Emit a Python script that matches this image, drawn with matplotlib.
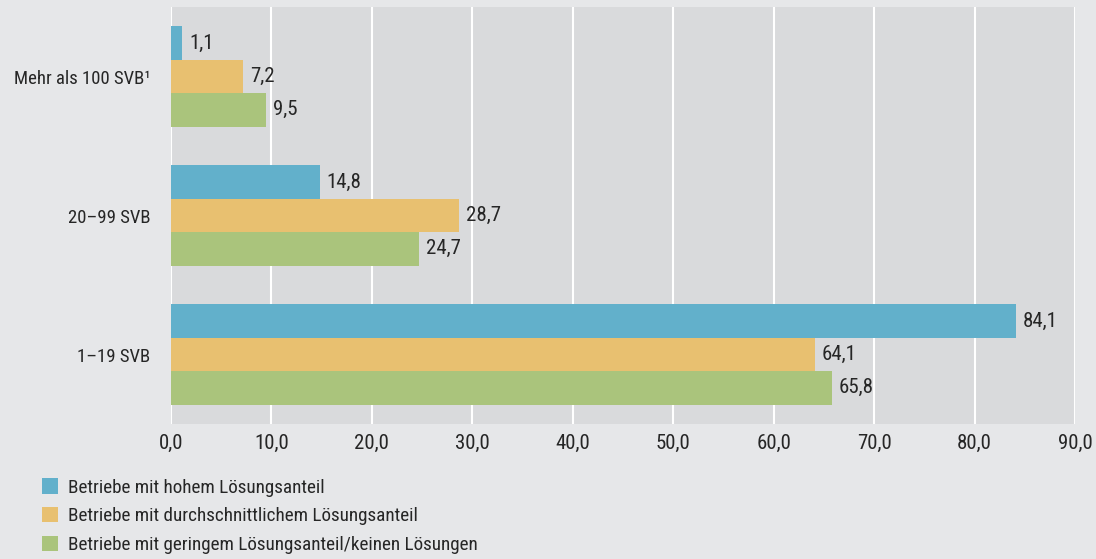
import matplotlib
matplotlib.use("Agg")
import matplotlib.pyplot as plt
from matplotlib import font_manager
import numpy as np

# ---------------------------------------------------------------------------
# Data
# ---------------------------------------------------------------------------
categories = ["Mehr als 100 SVB\u00b9", "20\u201399 SVB", "1\u201319 SVB"]
series_labels = [
    "Betriebe mit hohem Lösungsanteil",
    "Betriebe mit durchschnittlichem Lösungsanteil",
    "Betriebe mit geringem Lösungsanteil/keinen Lösungen",
]
hoch = [1.1, 14.8, 84.1]
mittel = [7.2, 28.7, 64.1]
gering = [9.5, 24.7, 65.8]
series_values = [hoch, mittel, gering]
colors = ["#62b0cb", "#e8c070", "#aac47c"]
x_ticks = [0, 10, 20, 30, 40, 50, 60, 70, 80, 90]

# ---------------------------------------------------------------------------
# Style
# ---------------------------------------------------------------------------
installed = {f.name for f in font_manager.fontManager.ttflist}
fam = [f for f in ["Liberation Sans Narrow", "Roboto Condensed", "DejaVu Sans"] if f in installed]
plt.rcParams["font.family"] = fam
text_col = "#262626"
fig_bg = "#e6e7e9"
ax_bg = "#d9dadc"

fig = plt.figure(figsize=(10.96, 5.59), dpi=100, facecolor=fig_bg)
ax = fig.add_axes([171 / 1096, 135 / 559, 904 / 1096, 417 / 559])
ax.set_facecolor(ax_bg)

bar_h = 0.24
y_pos = np.arange(len(categories))
handles = []
for i, (vals, col, lab) in enumerate(zip(series_values, colors, series_labels)):
    ys = y_pos + (i - 1) * bar_h
    b = ax.barh(ys, vals, height=bar_h, color=col, label=lab, zorder=3)
    handles.append(b)
    for y, v in zip(ys, vals):
        ax.annotate(f"{v:.1f}".replace(".", ","), (v, y), xytext=(5, 0),
                    textcoords="offset points", va="center", ha="left",
                    fontsize=15, color=text_col)

ax.set_ylim(2.5, -0.5)
ax.set_xlim(0, 90)
ax.set_yticks(y_pos)
ax.set_yticklabels(categories, fontsize=13.5)
ax.set_xticks(x_ticks)
ax.set_xticklabels([f"{t:.1f}".replace(".", ",") for t in x_ticks], fontsize=15)
ax.tick_params(axis="both", length=0, colors=text_col)
ax.tick_params(axis="y", pad=15)
ax.tick_params(axis="x", pad=7)
ax.grid(axis="x", color="white", lw=1.5, zorder=1)
ax.set_axisbelow(True)
for s in ax.spines.values():
    s.set_visible(False)

fig.legend(handles=handles, labels=series_labels, loc="upper left",
           bbox_to_anchor=(0.031, 0.158), frameon=False, fontsize=13.8,
           handlelength=0.85, handleheight=0.85, handletextpad=0.5,
           labelspacing=0.55, labelcolor=text_col, borderaxespad=0)

fig.savefig("out.png", dpi=100, facecolor=fig_bg)
